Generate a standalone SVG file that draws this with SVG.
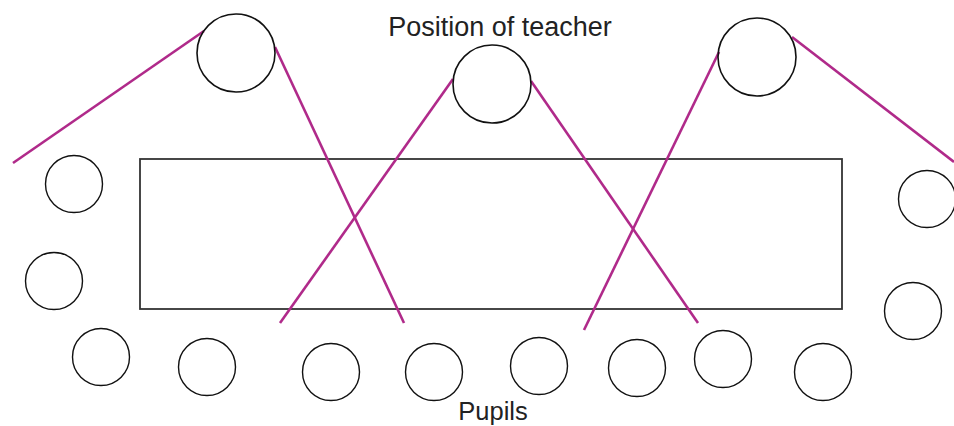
<svg xmlns="http://www.w3.org/2000/svg" width="954" height="426" viewBox="0 0 954 426">
<style>
.seat{fill:none;stroke:#111;stroke-width:1.4}
.teacher{fill:none;stroke:#111;stroke-width:1.6}
.table{fill:none;stroke:#333;stroke-width:1.8}
.sight{stroke:#B02A8A;stroke-width:2.6;fill:none}
.lbl{font-family:"Liberation Sans",Arial,sans-serif;fill:#222;text-anchor:middle}
</style>
<rect width="954" height="426" fill="#fff"/>
<g id="table"><rect class="table" x="140" y="159" width="702" height="150"/></g>
<g id="connectors">
<line class="sight" x1="13" y1="163" x2="204" y2="31"/>
<line class="sight" x1="275" y1="47" x2="404" y2="323"/>
<line class="sight" x1="453" y1="79" x2="280" y2="323"/>
<line class="sight" x1="531" y1="81" x2="698" y2="323"/>
<line class="sight" x1="719" y1="52" x2="584" y2="330"/>
<line class="sight" x1="792" y1="37" x2="954" y2="162"/>
</g>
<g id="teacher1"><circle class="teacher" cx="236" cy="53" r="39"/></g>
<g id="teacher2"><circle class="teacher" cx="492" cy="84" r="39"/></g>
<g id="teacher3"><circle class="teacher" cx="757" cy="57" r="39"/></g>
<g id="pupil1"><circle class="seat" cx="74" cy="184" r="28.5"/></g>
<g id="pupil2"><circle class="seat" cx="54" cy="281" r="28.5"/></g>
<g id="pupil3"><circle class="seat" cx="101" cy="357" r="28.5"/></g>
<g id="pupil4"><circle class="seat" cx="207" cy="367" r="28.5"/></g>
<g id="pupil5"><circle class="seat" cx="331" cy="372" r="28.5"/></g>
<g id="pupil6"><circle class="seat" cx="434" cy="372" r="28.5"/></g>
<g id="pupil7"><circle class="seat" cx="539" cy="366" r="28.5"/></g>
<g id="pupil8"><circle class="seat" cx="637" cy="368" r="28.5"/></g>
<g id="pupil9"><circle class="seat" cx="723" cy="359" r="28.5"/></g>
<g id="pupil10"><circle class="seat" cx="823" cy="372" r="28.5"/></g>
<g id="pupil11"><circle class="seat" cx="913" cy="311" r="28.5"/></g>
<g id="pupil12"><circle class="seat" cx="927" cy="199" r="28.5"/></g>
<g id="labels">
<text class="lbl" x="500" y="36" font-size="27">Position of teacher</text>
<text class="lbl" x="493" y="420" font-size="25.5">Pupils</text>
</g>
</svg>
